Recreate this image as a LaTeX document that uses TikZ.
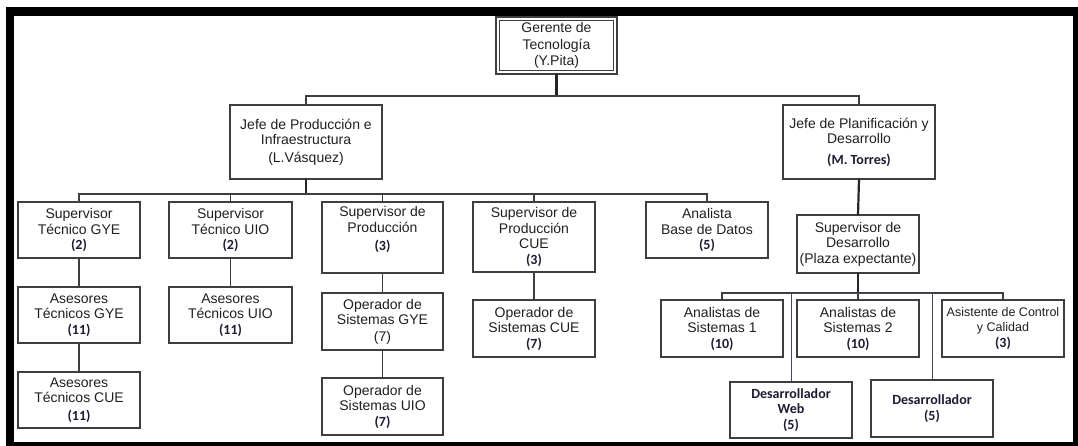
\documentclass[tikz,border=0pt]{standalone}
\usepackage{fontspec}
\setmainfont{Liberation Sans}
\newfontfamily\carl{Carlito}
\definecolor{edge}{RGB}{62,62,62}
\definecolor{ink}{RGB}{32,32,32}
\definecolor{navy}{RGB}{28,28,52}
\definecolor{wire}{RGB}{70,70,90}
% bold Carlito for head counts and names
\newcommand\nb[1]{{\carl\bfseries\color{navy}#1}}
% slightly smaller text line
\newcommand\smline[1]{{\fontsize{12.5}{15.5}\selectfont #1}}
\tikzset{
  box/.style={draw=edge, line width=1.5pt, rectangle, inner sep=0pt, outer sep=0pt,
              align=center, text=ink, font=\fontsize{14}{15.5}\selectfont},
  label text/.style={inner sep=0pt, align=center, text=ink, font=\fontsize{14}{15.5}\selectfont},
  link/.style={draw=edge, line width=1.5pt},
  trunk/.style={draw=black!85, line width=2.2pt},
  fine link/.style={draw=wire, line width=0.9pt},
}
% \orgbox{name}{x1}{y1}{x2}{y2}{text}
\newcommand\orgbox[6]{%
  \node[box, minimum width={#4-#2}, minimum height={#5-#3}] (#1)
    at ({(#2+#4)/2},{(#3+#5)/2}) {#6};}
\begin{document}
\begin{tikzpicture}[x=1pt, y=-1pt]
\useasboundingbox (0,0) rectangle (1078,446);
\clip (0,0) rectangle (1078,446);
\fill[white] (0,0) rectangle (1078,446);
% outer frame
\draw[line width=8.5pt, black] (10,11.5) rectangle (1077.25,446.25);

% top level
\orgbox{ger}{496}{17}{617}{74}{Gerente de\\[1pt]Tecnología\\[1pt](Y.Pita)}
\draw[edge, line width=1pt] ([shift={(3.5,3.5)}]ger.north west) rectangle ([shift={(-3.5,-3.5)}]ger.south east);

\orgbox{jp}{230}{105}{382}{179}{Jefe de Producción e\\Infraestructura\\[2pt](L.Vásquez)}
\orgbox{jpl}{783}{105}{935}{179}{Jefe de Planificación y\\Desarrollo\\[5pt]\nb{(M. Torres)}}

% production branch
\orgbox{stg}{18}{202}{140}{258}{Supervisor\\Técnico GYE\\\nb{(2)}}
\orgbox{stu}{169}{202}{292}{258}{Supervisor\\Técnico UIO\\\nb{(2)}}
\orgbox{sp}{322}{202}{443}{273}{}
\node[label text] (sp-t) at (382.5,229.5) {Supervisor de\\Producción\\[3pt]\nb{(3)}};
\orgbox{spc}{473}{202}{595}{272}{Supervisor de\\Producción\\CUE\\\nb{(3)}}
\orgbox{abd}{646}{202}{768}{258}{Analista\\Base de Datos\\\nb{(5)}}

\orgbox{atg}{18}{287}{140}{343}{Asesores\\Técnicos GYE\\\nb{(11)}}
\orgbox{atc}{18}{372}{140}{428}{Asesores\\Técnicos CUE\\[2pt]\nb{(11)}}
\orgbox{atu}{169}{287}{292}{343}{Asesores\\Técnicos UIO\\\nb{(11)}}
\orgbox{og}{322}{293}{443}{350}{Operador de\\Sistemas GYE\\[1pt](7)}
\orgbox{ou}{322}{378}{443}{435}{Operador de\\Sistemas UIO\\\nb{(7)}}
\orgbox{oc}{473}{300}{595}{357}{Operador de\\Sistemas CUE\\\nb{(7)}}

% development branch
\orgbox{sd}{797}{215}{919}{273}{Supervisor de\\Desarrollo\\(Plaza expectante)}
\orgbox{as1}{661}{300}{783}{357}{Analistas de\\Sistemas 1\\\nb{(10)}}
\orgbox{as2}{797}{300}{919}{357}{Analistas de\\Sistemas 2\\\nb{(10)}}
\orgbox{acc}{942}{300}{1064}{357}{\smline{Asistente de Control}\\\smline{y Calidad}\\\nb{(3)}}
\orgbox{dw}{730}{382}{852}{438}{\nb{Desarrollador}\\\nb{Web}\\\nb{(5)}}
\orgbox{dv}{871}{380}{993}{437}{\nb{Desarrollador}\\[1pt]\nb{(5)}}

% connectors
\draw[trunk] (ger.south) -- ++(0,22);
\draw[link] (ger.south) ++(0,22) -| (jp.north);
\draw[link] (ger.south) ++(0,22) -| (jpl.north);

\draw[trunk] (jp.south) -- ++(0,15);
\foreach \n in {stg,stu,sp,spc,abd}
  \draw[link] (jp.south) ++(0,15) -| (\n.north);
\draw[link] (stg.south) -- (atg.north);
\draw[link] (atg.south) -- (atc.north);
\draw[link] (stu.south) -- (atu.north);
\draw[link] (sp.south) -- (og.north);
\draw[link] (og.south) -- (ou.north);
\draw[link] (spc.south) -- (oc.north);

\draw[trunk] (jpl.south) -- (sd.north);
\draw[trunk] (sd.south) -- ++(0,20);
\foreach \n in {as1,as2,acc}
  \draw[link] (sd.south) ++(0,20) -| (\n.north);
\foreach \n in {dw,dv}
  \draw[fine link] (sd.south) ++(0,20) -| (\n.north);
\end{tikzpicture}
\end{document}
